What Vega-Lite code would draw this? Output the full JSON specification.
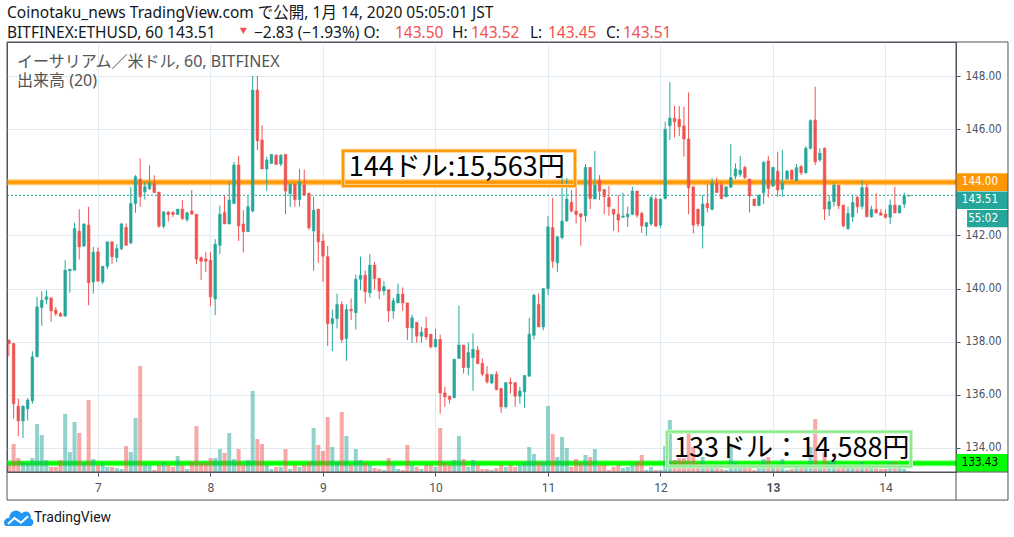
{
"$schema":"https://vega.github.io/schema/vega-lite/v6.json",
"width":949,"height":430,
"autosize":{"type":"none"},
"padding":{"left":7,"top":42,"right":58,"bottom":65},
"background":"white",
"config":{"view":{"stroke":"#50535e","strokeWidth":1},"axis":{"domain":false}},
"datasets":{"k":[
{"t":-19,"o":138.06,"hi":138.08,"lo":137.45,"c":137.93,"v":70},
{"t":-18,"o":137.93,"hi":137.95,"lo":135.1,"c":135.67,"v":280},
{"t":-17,"o":135.57,"hi":135.86,"lo":134.44,"c":135.02,"v":140},
{"t":-16,"o":135.02,"hi":135.6,"lo":134.38,"c":135.57,"v":100},
{"t":-15,"o":135.48,"hi":135.88,"lo":135.04,"c":135.8,"v":90},
{"t":-14,"o":135.78,"hi":137.64,"lo":135.67,"c":137.43,"v":140},
{"t":-13,"o":137.43,"hi":139.69,"lo":137.43,"c":139.31,"v":480},
{"t":-12,"o":139.29,"hi":139.9,"lo":138.6,"c":139.56,"v":370},
{"t":-11,"o":139.59,"hi":139.94,"lo":139.41,"c":139.69,"v":120},
{"t":-10,"o":139.64,"hi":139.69,"lo":138.75,"c":139.16,"v":50},
{"t":-9,"o":139.19,"hi":139.31,"lo":138.96,"c":139.06,"v":50},
{"t":-8,"o":139.06,"hi":139.11,"lo":138.94,"c":138.96,"v":120},
{"t":-7,"o":138.96,"hi":141.07,"lo":138.96,"c":140.69,"v":580},
{"t":-6,"o":140.67,"hi":140.73,"lo":139.84,"c":140.73,"v":200},
{"t":-5,"o":140.69,"hi":142.48,"lo":140.69,"c":142.26,"v":500},
{"t":-4,"o":142.16,"hi":142.99,"lo":141.09,"c":141.57,"v":390},
{"t":-3,"o":141.6,"hi":142.45,"lo":141.57,"c":142.43,"v":90},
{"t":-2,"o":142.39,"hi":143.08,"lo":139.37,"c":140.22,"v":720},
{"t":-1,"o":140.25,"hi":141.57,"lo":139.81,"c":141.37,"v":130},
{"t":0,"o":141.38,"hi":141.55,"lo":140.28,"c":140.28,"v":70},
{"t":1,"o":140.25,"hi":140.84,"lo":140.17,"c":140.84,"v":90},
{"t":2,"o":140.84,"hi":141.76,"lo":140.72,"c":141.76,"v":50},
{"t":3,"o":141.76,"hi":141.76,"lo":140.92,"c":141.2,"v":50},
{"t":4,"o":141.17,"hi":141.67,"lo":141.0,"c":141.5,"v":40},
{"t":5,"o":141.5,"hi":142.48,"lo":141.45,"c":142.43,"v":30},
{"t":6,"o":142.3,"hi":142.45,"lo":141.6,"c":141.63,"v":260},
{"t":7,"o":141.72,"hi":143.83,"lo":141.67,"c":143.2,"v":200},
{"t":8,"o":143.2,"hi":144.27,"lo":142.85,"c":144.21,"v":540},
{"t":9,"o":144.12,"hi":144.9,"lo":143.08,"c":143.46,"v":1060},
{"t":10,"o":143.64,"hi":144.02,"lo":143.35,"c":143.83,"v":70},
{"t":11,"o":143.76,"hi":144.64,"lo":143.71,"c":143.98,"v":70},
{"t":12,"o":143.96,"hi":144.26,"lo":143.61,"c":143.61,"v":20},
{"t":13,"o":143.63,"hi":143.63,"lo":142.29,"c":142.35,"v":70},
{"t":14,"o":142.35,"hi":142.89,"lo":142.26,"c":142.89,"v":100},
{"t":15,"o":142.88,"hi":142.92,"lo":142.53,"c":142.78,"v":70},
{"t":16,"o":142.87,"hi":142.9,"lo":142.7,"c":142.79,"v":50},
{"t":17,"o":142.79,"hi":142.99,"lo":142.79,"c":142.99,"v":160},
{"t":18,"o":142.99,"hi":143.33,"lo":142.58,"c":142.64,"v":70},
{"t":19,"o":142.6,"hi":142.89,"lo":142.51,"c":142.85,"v":30},
{"t":20,"o":142.92,"hi":143.71,"lo":142.8,"c":142.8,"v":100},
{"t":21,"o":142.8,"hi":142.8,"lo":140.92,"c":141.11,"v":460},
{"t":22,"o":141.16,"hi":141.2,"lo":140.32,"c":141.03,"v":90},
{"t":23,"o":141.11,"hi":141.37,"lo":140.62,"c":141.03,"v":90},
{"t":24,"o":141.07,"hi":141.38,"lo":139.34,"c":139.69,"v":140},
{"t":25,"o":139.61,"hi":141.86,"lo":139.0,"c":141.67,"v":140},
{"t":26,"o":141.63,"hi":143.12,"lo":141.3,"c":142.8,"v":230},
{"t":27,"o":142.86,"hi":143.49,"lo":142.43,"c":142.43,"v":190},
{"t":28,"o":142.43,"hi":143.98,"lo":142.43,"c":143.33,"v":390},
{"t":29,"o":143.2,"hi":144.77,"lo":143.18,"c":144.65,"v":130},
{"t":30,"o":144.65,"hi":144.99,"lo":141.79,"c":142.36,"v":230},
{"t":31,"o":142.43,"hi":142.95,"lo":141.36,"c":142.14,"v":70},
{"t":32,"o":142.14,"hi":143.49,"lo":142.14,"c":143.08,"v":120},
{"t":33,"o":142.92,"hi":148.0,"lo":142.87,"c":147.47,"v":810},
{"t":34,"o":147.47,"hi":148.0,"lo":145.21,"c":145.56,"v":330},
{"t":35,"o":145.59,"hi":146.15,"lo":144.5,"c":144.5,"v":280},
{"t":36,"o":144.5,"hi":144.96,"lo":143.67,"c":144.84,"v":70},
{"t":37,"o":144.71,"hi":145.05,"lo":144.71,"c":145.05,"v":30},
{"t":38,"o":145.02,"hi":145.05,"lo":144.67,"c":144.67,"v":50},
{"t":39,"o":144.69,"hi":145.05,"lo":144.61,"c":145.02,"v":50},
{"t":40,"o":145.05,"hi":145.05,"lo":142.8,"c":143.67,"v":230},
{"t":41,"o":143.58,"hi":143.96,"lo":143.08,"c":143.92,"v":30},
{"t":42,"o":143.93,"hi":143.96,"lo":143.08,"c":143.35,"v":70},
{"t":43,"o":143.35,"hi":144.51,"lo":143.08,"c":144.01,"v":50},
{"t":44,"o":143.9,"hi":144.48,"lo":143.52,"c":143.52,"v":70},
{"t":45,"o":143.58,"hi":143.61,"lo":142.2,"c":142.29,"v":100},
{"t":46,"o":142.17,"hi":143.46,"lo":140.67,"c":142.95,"v":440},
{"t":47,"o":142.99,"hi":142.99,"lo":140.97,"c":141.76,"v":270},
{"t":48,"o":141.79,"hi":142.07,"lo":140.25,"c":141.22,"v":210},
{"t":49,"o":141.2,"hi":141.6,"lo":137.84,"c":138.68,"v":550},
{"t":50,"o":138.68,"hi":139.21,"lo":137.65,"c":138.87,"v":250},
{"t":51,"o":138.87,"hi":139.81,"lo":138.5,"c":139.4,"v":100},
{"t":52,"o":139.4,"hi":139.53,"lo":137.96,"c":138.08,"v":600},
{"t":53,"o":138.12,"hi":139.41,"lo":137.28,"c":139.21,"v":360},
{"t":54,"o":139.22,"hi":139.63,"lo":138.81,"c":139.16,"v":70},
{"t":55,"o":139.09,"hi":140.53,"lo":138.46,"c":140.35,"v":230},
{"t":56,"o":140.35,"hi":141.2,"lo":139.94,"c":140.5,"v":120},
{"t":57,"o":140.5,"hi":140.69,"lo":139.44,"c":139.88,"v":90},
{"t":58,"o":139.84,"hi":141.3,"lo":139.66,"c":140.88,"v":70},
{"t":59,"o":140.88,"hi":141.0,"lo":139.96,"c":140.38,"v":40},
{"t":60,"o":140.38,"hi":140.38,"lo":139.6,"c":139.91,"v":30},
{"t":61,"o":139.91,"hi":140.28,"lo":139.75,"c":140.07,"v":20},
{"t":62,"o":139.96,"hi":139.96,"lo":138.75,"c":139.16,"v":140},
{"t":63,"o":139.16,"hi":139.66,"lo":138.87,"c":139.54,"v":70},
{"t":64,"o":139.46,"hi":140.19,"lo":139.46,"c":139.79,"v":30},
{"t":65,"o":139.79,"hi":140.04,"lo":139.16,"c":139.46,"v":20},
{"t":66,"o":139.46,"hi":139.46,"lo":138.06,"c":138.52,"v":270},
{"t":67,"o":138.52,"hi":139.02,"lo":137.96,"c":138.9,"v":70},
{"t":68,"o":138.73,"hi":138.73,"lo":137.96,"c":138.21,"v":50},
{"t":69,"o":138.21,"hi":138.56,"lo":137.96,"c":138.36,"v":30},
{"t":70,"o":138.5,"hi":138.94,"lo":138.06,"c":138.18,"v":70},
{"t":71,"o":138.28,"hi":138.28,"lo":137.74,"c":137.81,"v":70},
{"t":72,"o":137.81,"hi":138.48,"lo":137.78,"c":138.09,"v":50},
{"t":73,"o":138.08,"hi":138.27,"lo":135.29,"c":136.07,"v":440},
{"t":74,"o":136.07,"hi":136.3,"lo":135.55,"c":135.92,"v":90},
{"t":75,"o":135.95,"hi":135.95,"lo":135.67,"c":135.83,"v":70},
{"t":76,"o":135.89,"hi":137.34,"lo":135.89,"c":137.34,"v":120},
{"t":77,"o":137.37,"hi":139.35,"lo":137.37,"c":137.87,"v":360},
{"t":78,"o":137.87,"hi":137.87,"lo":136.8,"c":137.03,"v":130},
{"t":79,"o":137.03,"hi":137.97,"lo":136.74,"c":137.59,"v":50},
{"t":80,"o":137.4,"hi":138.31,"lo":136.15,"c":137.71,"v":120},
{"t":81,"o":137.68,"hi":137.84,"lo":137.15,"c":137.18,"v":70},
{"t":82,"o":137.18,"hi":137.37,"lo":136.7,"c":136.78,"v":30},
{"t":83,"o":136.78,"hi":137.08,"lo":136.42,"c":136.49,"v":30},
{"t":84,"o":136.45,"hi":136.76,"lo":136.4,"c":136.76,"v":20},
{"t":85,"o":136.78,"hi":136.89,"lo":136.17,"c":136.2,"v":40},
{"t":86,"o":136.24,"hi":136.24,"lo":135.32,"c":135.55,"v":70},
{"t":87,"o":135.55,"hi":136.46,"lo":135.48,"c":136.46,"v":50},
{"t":88,"o":136.48,"hi":136.65,"lo":136.05,"c":136.42,"v":70},
{"t":89,"o":136.46,"hi":136.46,"lo":135.55,"c":135.95,"v":50},
{"t":90,"o":135.95,"hi":136.3,"lo":135.67,"c":136.14,"v":70},
{"t":91,"o":136.11,"hi":136.73,"lo":135.51,"c":136.73,"v":100},
{"t":92,"o":136.7,"hi":138.9,"lo":136.7,"c":138.28,"v":250},
{"t":93,"o":138.24,"hi":139.81,"lo":138.08,"c":139.75,"v":180},
{"t":94,"o":139.4,"hi":139.81,"lo":138.56,"c":138.56,"v":100},
{"t":95,"o":138.56,"hi":140.0,"lo":138.43,"c":140.0,"v":100},
{"t":96,"o":140.0,"hi":142.73,"lo":139.75,"c":142.32,"v":660},
{"t":97,"o":142.29,"hi":143.42,"lo":140.78,"c":141.03,"v":380},
{"t":98,"o":140.97,"hi":141.95,"lo":140.62,"c":141.95,"v":150},
{"t":99,"o":141.92,"hi":144.96,"lo":141.85,"c":142.54,"v":350},
{"t":100,"o":142.55,"hi":144.15,"lo":142.51,"c":143.37,"v":240},
{"t":101,"o":143.24,"hi":143.71,"lo":142.87,"c":142.92,"v":50},
{"t":102,"o":142.92,"hi":143.96,"lo":142.45,"c":142.79,"v":130},
{"t":103,"o":142.81,"hi":142.85,"lo":141.61,"c":142.7,"v":90},
{"t":104,"o":142.74,"hi":144.69,"lo":142.51,"c":144.56,"v":170},
{"t":105,"o":144.56,"hi":144.56,"lo":142.99,"c":143.39,"v":150},
{"t":106,"o":143.37,"hi":145.18,"lo":143.37,"c":143.89,"v":230},
{"t":107,"o":144.08,"hi":144.27,"lo":143.33,"c":143.67,"v":70},
{"t":108,"o":143.73,"hi":143.73,"lo":142.8,"c":143.46,"v":70},
{"t":109,"o":143.42,"hi":143.86,"lo":142.74,"c":143.08,"v":20},
{"t":110,"o":142.99,"hi":142.99,"lo":142.17,"c":142.8,"v":50},
{"t":111,"o":142.8,"hi":143.52,"lo":142.11,"c":142.58,"v":70},
{"t":112,"o":142.68,"hi":143.61,"lo":142.68,"c":142.73,"v":40},
{"t":113,"o":142.7,"hi":143.08,"lo":142.32,"c":142.8,"v":50},
{"t":114,"o":142.8,"hi":143.83,"lo":142.76,"c":143.67,"v":70},
{"t":115,"o":143.67,"hi":143.67,"lo":142.66,"c":142.76,"v":100},
{"t":116,"o":142.83,"hi":142.89,"lo":142.1,"c":142.36,"v":170},
{"t":117,"o":142.33,"hi":142.51,"lo":141.99,"c":142.48,"v":20},
{"t":118,"o":142.43,"hi":143.48,"lo":142.36,"c":143.42,"v":50},
{"t":119,"o":143.37,"hi":143.46,"lo":142.33,"c":142.35,"v":20},
{"t":120,"o":142.39,"hi":143.37,"lo":142.29,"c":143.37,"v":20},
{"t":121,"o":143.39,"hi":146.28,"lo":143.35,"c":146.0,"v":260},
{"t":122,"o":146.13,"hi":147.77,"lo":145.59,"c":146.41,"v":520},
{"t":123,"o":146.41,"hi":146.88,"lo":145.69,"c":146.28,"v":120},
{"t":124,"o":146.37,"hi":146.87,"lo":145.74,"c":146.09,"v":140},
{"t":125,"o":146.12,"hi":146.84,"lo":144.96,"c":145.63,"v":140},
{"t":126,"o":145.63,"hi":147.38,"lo":142.8,"c":143.79,"v":400},
{"t":127,"o":143.83,"hi":143.83,"lo":142.07,"c":142.39,"v":250},
{"t":128,"o":142.99,"hi":142.99,"lo":142.33,"c":142.43,"v":90},
{"t":129,"o":142.36,"hi":143.52,"lo":141.51,"c":143.18,"v":150},
{"t":130,"o":143.2,"hi":143.93,"lo":142.86,"c":143.04,"v":70},
{"t":131,"o":142.98,"hi":144.15,"lo":142.95,"c":143.96,"v":40},
{"t":132,"o":143.96,"hi":144.18,"lo":143.61,"c":143.61,"v":40},
{"t":133,"o":143.9,"hi":144.02,"lo":143.35,"c":143.39,"v":30},
{"t":134,"o":143.46,"hi":143.83,"lo":143.43,"c":143.83,"v":20},
{"t":135,"o":143.81,"hi":145.44,"lo":143.81,"c":144.18,"v":270},
{"t":136,"o":144.23,"hi":144.71,"lo":144.12,"c":144.5,"v":100},
{"t":137,"o":144.3,"hi":144.99,"lo":144.21,"c":144.46,"v":50},
{"t":138,"o":144.56,"hi":144.62,"lo":144.12,"c":144.18,"v":50},
{"t":139,"o":144.12,"hi":144.12,"lo":142.86,"c":143.49,"v":50},
{"t":140,"o":143.37,"hi":143.37,"lo":143.12,"c":143.12,"v":20},
{"t":141,"o":143.12,"hi":143.52,"lo":143.12,"c":143.52,"v":70},
{"t":142,"o":143.61,"hi":144.8,"lo":143.18,"c":144.75,"v":130},
{"t":143,"o":144.8,"hi":144.99,"lo":143.43,"c":143.77,"v":150},
{"t":144,"o":143.86,"hi":144.56,"lo":143.83,"c":144.56,"v":70},
{"t":145,"o":144.42,"hi":145.15,"lo":143.46,"c":143.71,"v":70},
{"t":146,"o":143.74,"hi":145.21,"lo":143.46,"c":143.96,"v":130},
{"t":147,"o":144.12,"hi":144.46,"lo":144.12,"c":144.42,"v":20},
{"t":148,"o":144.46,"hi":144.46,"lo":144.11,"c":144.11,"v":30},
{"t":149,"o":144.06,"hi":144.69,"lo":144.06,"c":144.55,"v":50},
{"t":150,"o":144.59,"hi":144.65,"lo":144.27,"c":144.36,"v":50},
{"t":151,"o":144.36,"hi":145.36,"lo":144.33,"c":145.28,"v":70},
{"t":152,"o":145.28,"hi":146.37,"lo":145.24,"c":146.32,"v":250},
{"t":153,"o":146.34,"hi":147.6,"lo":144.65,"c":144.77,"v":530},
{"t":154,"o":144.84,"hi":145.28,"lo":144.77,"c":145.09,"v":70},
{"t":155,"o":145.28,"hi":145.31,"lo":142.58,"c":142.99,"v":190},
{"t":156,"o":142.99,"hi":143.52,"lo":142.73,"c":143.27,"v":100},
{"t":157,"o":143.27,"hi":143.98,"lo":143.08,"c":143.89,"v":120},
{"t":158,"o":143.89,"hi":143.89,"lo":142.99,"c":143.12,"v":70},
{"t":159,"o":143.14,"hi":143.14,"lo":142.3,"c":142.36,"v":70},
{"t":160,"o":142.26,"hi":143.08,"lo":142.2,"c":142.83,"v":60},
{"t":161,"o":142.7,"hi":143.52,"lo":142.51,"c":143.24,"v":40},
{"t":162,"o":143.43,"hi":143.49,"lo":142.83,"c":143.08,"v":70},
{"t":163,"o":143.1,"hi":144.08,"lo":142.98,"c":143.8,"v":100},
{"t":164,"o":143.8,"hi":143.96,"lo":142.7,"c":142.7,"v":70},
{"t":165,"o":142.7,"hi":143.12,"lo":142.67,"c":142.98,"v":60},
{"t":166,"o":142.98,"hi":143.58,"lo":142.83,"c":142.85,"v":50},
{"t":167,"o":142.85,"hi":142.99,"lo":142.76,"c":142.76,"v":30},
{"t":168,"o":142.8,"hi":142.98,"lo":142.64,"c":142.68,"v":30},
{"t":169,"o":142.68,"hi":143.35,"lo":142.43,"c":143.14,"v":100},
{"t":170,"o":143.14,"hi":143.83,"lo":142.83,"c":142.85,"v":100},
{"t":171,"o":142.85,"hi":143.12,"lo":142.83,"c":143.12,"v":50},
{"t":172,"o":143.18,"hi":143.61,"lo":143.04,"c":143.49,"v":30},
{"t":173,"o":143.5,"hi":143.52,"lo":143.45,"c":143.51,"v":10}
]},
"layer":[
 {"data":{"values":[{"p":144,"t1":-19.41,"t2":183.04}]},
  "mark":{"type":"rule","strokeWidth":0,"opacity":0},
  "encoding":{"x":{"field":"t1","type":"quantitative","scale":{"domain":[-19.41,183.04],"nice":false,"zero":false,"padding":0},
    "axis":{"values":[0,24,48,72,96,120,144,168],"labelExpr":"'' + (datum.value/24 + 7)","title":null,"grid":true,"gridColor":"#e1ecf2","tickSize":4,"tickColor":"#50535e","labelPadding":6,"labelFontSize":12,"labelFont":"Roboto","labelColor":"#4c525e","labelFontWeight":{"condition":{"test":"datum.value == 144","value":"bold"},"value":"normal"}}},
   "x2":{"field":"t2"},
   "y":{"field":"p","type":"quantitative","scale":{"domain":[133.096,149.28],"nice":false,"zero":false,"padding":0},
    "axis":{"orient":"right","values":[134,136,138,140,142,146,148],"format":".2f","title":null,"grid":true,"gridColor":"#e1ecf2","tickSize":4,"tickColor":"#50535e","labelPadding":5,"labelFontSize":11.5,"labelFont":"Liberation Sans Narrow, DejaVu Sans Condensed, Roboto, sans-serif","labelColor":"#4c525e"}}}},
 {"data":{"values":[{"p":133.43,"t1":-19.41,"t2":183.04}]},
  "mark":{"type":"rule","strokeWidth":6,"color":"#8cff8c"},
  "encoding":{"x":{"field":"t1","type":"quantitative","axis":null},"x2":{"field":"t2"},
   "y":{"field":"p","type":"quantitative","scale":{"domain":[133.096,149.28],"nice":false,"zero":false,"padding":0},"axis":null}}},
 {"data":{"values":[{"p":133.43,"t1":-19.41,"t2":183.04}]},
  "mark":{"type":"rule","strokeWidth":4,"color":"#00ff00"},
  "encoding":{"x":{"field":"t1","type":"quantitative","axis":null},"x2":{"field":"t2"},
   "y":{"field":"p","type":"quantitative","scale":{"domain":[133.096,149.28],"nice":false,"zero":false,"padding":0},"axis":null}}},
 {"data":{"name":"k"},
  "mark":{"type":"bar","width":4,"opacity":0.5},
  "encoding":{
   "x":{"field":"t","type":"quantitative","axis":null},
   "y":{"field":"v","type":"quantitative","scale":{"domain":[0,4300],"nice":false,"zero":true,"padding":0},"axis":null},
   "y2":{"datum":0},
   "color":{"condition":{"test":"datum.c >= datum.o","value":"#26a69a"},"value":"#ef5350"}}},
 {"data":{"values":[{"p":144,"t1":-19.41,"t2":183.04}]},
  "mark":{"type":"rule","strokeWidth":6,"color":"#ffc46b"},
  "encoding":{"x":{"field":"t1","type":"quantitative","axis":null},"x2":{"field":"t2"},
   "y":{"field":"p","type":"quantitative","scale":{"domain":[133.096,149.28],"nice":false,"zero":false,"padding":0},"axis":null}}},
 {"data":{"values":[{"p":144,"t1":-19.41,"t2":183.04}]},
  "mark":{"type":"rule","strokeWidth":3,"color":"#ff9800"},
  "encoding":{"x":{"field":"t1","type":"quantitative","axis":null},"x2":{"field":"t2"},
   "y":{"field":"p","type":"quantitative","scale":{"domain":[133.096,149.28],"nice":false,"zero":false,"padding":0},"axis":null}}},
 {"data":{"values":[{"p":143.51,"t1":-19.41,"t2":183.04}]},
  "mark":{"type":"rule","strokeWidth":1,"color":"#26a69a","strokeDash":[2,2]},
  "encoding":{"x":{"field":"t1","type":"quantitative","axis":null},"x2":{"field":"t2"},
   "y":{"field":"p","type":"quantitative","scale":{"domain":[133.096,149.28],"nice":false,"zero":false,"padding":0},"axis":null}}},
 {"data":{"name":"k"},
  "mark":{"type":"rule","strokeWidth":1},
  "encoding":{
   "x":{"field":"t","type":"quantitative","axis":null},
   "y":{"field":"lo","type":"quantitative","scale":{"domain":[133.096,149.28],"nice":false,"zero":false,"padding":0},"axis":null},
   "y2":{"field":"hi"},
   "color":{"condition":{"test":"datum.c >= datum.o","value":"#26a69a"},"value":"#ef5350"}}},
 {"data":{"name":"k"},
  "mark":{"type":"bar","width":2.6,"strokeWidth":0.6},
  "encoding":{
   "x":{"field":"t","type":"quantitative","axis":null},
   "y":{"field":"o","type":"quantitative","scale":{"domain":[133.096,149.28],"nice":false,"zero":false,"padding":0},"axis":null},
   "y2":{"field":"c"},
   "color":{"condition":{"test":"datum.c >= datum.o","value":"#26a69a"},"value":"#ef5350"},
   "stroke":{"condition":{"test":"datum.c >= datum.o","value":"#26a69a"},"value":"#ef5350"}}},
 {"data":{"values":[{"t1":52.27,"t2":101.76,"p1":145.19,"p2":143.86}]},
  "mark":{"type":"rect","fillOpacity":0,"stroke":"#ffcc80","strokeWidth":4,"clip":false},
  "encoding":{"x":{"field":"t1","type":"quantitative","axis":null},"x2":{"field":"t2"},"y":{"field":"p1","type":"quantitative","scale":{"domain":[133.096,149.28],"nice":false,"zero":false,"padding":0},"axis":null},"y2":{"field":"p2"}}},
 {"data":{"values":[{"t1":52.27,"t2":101.76,"p1":145.19,"p2":143.86}]},
  "mark":{"type":"rect","fillOpacity":0,"stroke":"#ff9800","strokeWidth":2,"clip":false},
  "encoding":{"x":{"field":"t1","type":"quantitative","axis":null},"x2":{"field":"t2"},"y":{"field":"p1","type":"quantitative","scale":{"domain":[133.096,149.28],"nice":false,"zero":false,"padding":0},"axis":null},"y2":{"field":"p2"}}},
 {"data":{"values":[{"t1":121.39,"t2":173.44,"p1":134.61,"p2":133.3}]},
  "mark":{"type":"rect","fillOpacity":0,"stroke":"#c9f7c9","strokeWidth":4,"clip":false},
  "encoding":{"x":{"field":"t1","type":"quantitative","axis":null},"x2":{"field":"t2"},"y":{"field":"p1","type":"quantitative","scale":{"domain":[133.096,149.28],"nice":false,"zero":false,"padding":0},"axis":null},"y2":{"field":"p2"}}},
 {"data":{"values":[{"t1":121.39,"t2":173.44,"p1":134.61,"p2":133.3}]},
  "mark":{"type":"rect","fillOpacity":0,"stroke":"#8fea8f","strokeWidth":2,"clip":false},
  "encoding":{"x":{"field":"t1","type":"quantitative","axis":null},"x2":{"field":"t2"},"y":{"field":"p1","type":"quantitative","scale":{"domain":[133.096,149.28],"nice":false,"zero":false,"padding":0},"axis":null},"y2":{"field":"p2"}}},
 {"data":{"values":[{"t":53.5,"p":144.54,"txt":"144ドル:15,563円"},{"t":122.9,"p":133.98,"txt":"133ドル：14,588円"}]},
  "mark":{"type":"text","align":"left","baseline":"middle","fontSize":27,"font":"Noto Sans CJK JP","color":"#000000","clip":false},
  "encoding":{"x":{"field":"t","type":"quantitative","axis":null},"y":{"field":"p","type":"quantitative","scale":{"domain":[133.096,149.28],"nice":false,"zero":false,"padding":0},"axis":null},"text":{"field":"txt"}}},
 {"data":{"values":[{"t":-17.28,"p":148.53,"txt":"イーサリアム／米ドル, 60, BITFINEX"},{"t":-17.28,"p":147.81,"txt":"出来高 (20)"}]},
  "mark":{"type":"text","align":"left","baseline":"middle","fontSize":16,"font":"Noto Sans, Noto Sans CJK JP","color":"#555555","clip":false},
  "encoding":{"x":{"field":"t","type":"quantitative","axis":null},"y":{"field":"p","type":"quantitative","scale":{"domain":[133.096,149.28],"nice":false,"zero":false,"padding":0},"axis":null},"text":{"field":"txt"}}},
 {"data":{"values":[
   {"t":-19.41,"p":150.36,"txt":"Coinotaku_news TradingView.com で公開, 1月 14, 2020 05:05:01 JST"},
   {"t":-19.41,"p":149.63,"txt":"BITFINEX:ETHUSD, 60 143.51"},
   {"t":33.28,"p":149.63,"txt":"−2.83 (−1.93%) O:"},
   {"t":75.52,"p":149.63,"txt":"H:"},
   {"t":92.16,"p":149.63,"txt":"L:"},
   {"t":108.37,"p":149.63,"txt":"C:"}]},
  "mark":{"type":"text","align":"left","baseline":"middle","fontSize":15.5,"font":"Noto Sans, Noto Sans CJK JP","color":"#131722","clip":false},
  "encoding":{"x":{"field":"t","type":"quantitative","axis":null},"y":{"field":"p","type":"quantitative","scale":{"domain":[133.096,149.28],"nice":false,"zero":false,"padding":0},"axis":null},"text":{"field":"txt"}}},
 {"data":{"values":[
   {"t":63.36,"p":149.63,"txt":"143.50"},
   {"t":79.57,"p":149.63,"txt":"143.52"},
   {"t":96.0,"p":149.63,"txt":"143.45"},
   {"t":112.0,"p":149.63,"txt":"143.51"}]},
  "mark":{"type":"text","align":"left","baseline":"middle","fontSize":15.5,"font":"Noto Sans, Noto Sans CJK JP","color":"#ef5350","clip":false},
  "encoding":{"x":{"field":"t","type":"quantitative","axis":null},"y":{"field":"p","type":"quantitative","scale":{"domain":[133.096,149.28],"nice":false,"zero":false,"padding":0},"axis":null},"text":{"field":"txt"}}},
 {"data":{"values":[{"t":31.0,"p":149.7}]},
  "mark":{"type":"point","shape":"triangle-down","filled":true,"color":"#ef5350","opacity":1,"size":50,"clip":false},
  "encoding":{"x":{"field":"t","type":"quantitative","axis":null},"y":{"field":"p","type":"quantitative","scale":{"domain":[133.096,149.28],"nice":false,"zero":false,"padding":0},"axis":null}}},
 {"data":{"values":[
   {"name":"a","t1":183.04,"t2":194.13,"p1":144.34,"p2":143.67},
   {"name":"b","t1":183.04,"t2":194.13,"p1":143.65,"p2":142.99},
   {"name":"c","t1":185.4,"t2":194.13,"p1":142.96,"p2":142.31},
   {"name":"d","t1":183.04,"t2":194.13,"p1":133.77,"p2":133.11}]},
  "mark":{"type":"rect","clip":false},
  "encoding":{"x":{"field":"t1","type":"quantitative","axis":null},"x2":{"field":"t2"},"y":{"field":"p1","type":"quantitative","scale":{"domain":[133.096,149.28],"nice":false,"zero":false,"padding":0},"axis":null},"y2":{"field":"p2"},
   "color":{"field":"name","type":"nominal","scale":{"domain":["a","b","c","d"],"range":["#ff9800","#26a69a","#26a69a","#00ff00"]},"legend":null}}},
 {"data":{"values":[{"t":192.0,"p":144.0,"txt":"144.00"},{"t":192.0,"p":143.32,"txt":"143.51"},{"t":192.0,"p":142.63,"txt":"55:02"}]},
  "mark":{"type":"text","align":"right","baseline":"middle","fontSize":11.5,"font":"Liberation Sans Narrow, DejaVu Sans Condensed, Roboto, sans-serif","color":"#ffffff","clip":false},
  "encoding":{"x":{"field":"t","type":"quantitative","axis":null},"y":{"field":"p","type":"quantitative","scale":{"domain":[133.096,149.28],"nice":false,"zero":false,"padding":0},"axis":null},"text":{"field":"txt"}}},
 {"data":{"values":[{"t":192.0,"p":133.43,"txt":"133.43"}]},
  "mark":{"type":"text","align":"right","baseline":"middle","fontSize":11.5,"font":"Liberation Sans Narrow, DejaVu Sans Condensed, Roboto, sans-serif","color":"#000000","clip":false},
  "encoding":{"x":{"field":"t","type":"quantitative","axis":null},"y":{"field":"p","type":"quantitative","scale":{"domain":[133.096,149.28],"nice":false,"zero":false,"padding":0},"axis":null},"text":{"field":"txt"}}},
 {"data":{"values":[{"t1":-19.41,"t2":194.13,"p1":132.04,"p2":149.28}]},
  "mark":{"type":"rect","fillOpacity":0,"stroke":"#50535e","strokeWidth":1,"clip":false},
  "encoding":{"x":{"field":"t1","type":"quantitative","axis":null},"x2":{"field":"t2"},"y":{"field":"p1","type":"quantitative","scale":{"domain":[133.096,149.28],"nice":false,"zero":false,"padding":0},"axis":null},"y2":{"field":"p2"}}},
 {"data":{"values":[{"t":183.04,"p1":132.04,"p2":149.28}]},
  "mark":{"type":"rule","color":"#50535e","strokeWidth":1,"clip":false},
  "encoding":{"x":{"field":"t","type":"quantitative","axis":null},"y":{"field":"p1","type":"quantitative","scale":{"domain":[133.096,149.28],"nice":false,"zero":false,"padding":0},"axis":null},"y2":{"field":"p2"}}},
 {"data":{"values":[{"t1":-19.41,"t2":194.13,"p":133.096}]},
  "mark":{"type":"rule","color":"#50535e","strokeWidth":1,"clip":false},
  "encoding":{"x":{"field":"t1","type":"quantitative","axis":null},"x2":{"field":"t2"},"y":{"field":"p","type":"quantitative","scale":{"domain":[133.096,149.28],"nice":false,"zero":false,"padding":0},"axis":null}}},
 {"data":{"values":[{"t":-16.85,"p":131.36}]},
  "mark":{"type":"point","filled":true,"color":"#2196f3","opacity":1,"size":676,"clip":false,
   "shape":"M -1 0.6 C -1.25 0.55 -1.2 -0.05 -0.75 0 C -0.75 -0.55 -0.15 -0.8 0.2 -0.35 C 0.5 -0.7 1 -0.45 0.9 0.05 C 1.2 0.1 1.15 0.6 0.9 0.6 Z"},
  "encoding":{"x":{"field":"t","type":"quantitative","axis":null},"y":{"field":"p","type":"quantitative","scale":{"domain":[133.096,149.28],"nice":false,"zero":false,"padding":0},"axis":null}}},
 {"data":{"values":[{"t":-16.85,"p":131.36}]},
  "mark":{"type":"point","filled":false,"color":"#ffffff","strokeWidth":2,"opacity":1,"size":676,"clip":false,
   "shape":"M -0.85 0.45 L -0.35 0 L 0.15 0.35 L 0.7 -0.15"},
  "encoding":{"x":{"field":"t","type":"quantitative","axis":null},"y":{"field":"p","type":"quantitative","scale":{"domain":[133.096,149.28],"nice":false,"zero":false,"padding":0},"axis":null}}},
 {"data":{"values":[{"t":-13.65,"p":131.36,"txt":"TradingView"}]},
  "mark":{"type":"text","align":"left","baseline":"middle","fontSize":14,"font":"Roboto","color":"#131722","clip":false},
  "encoding":{"x":{"field":"t","type":"quantitative","axis":null},"y":{"field":"p","type":"quantitative","scale":{"domain":[133.096,149.28],"nice":false,"zero":false,"padding":0},"axis":null},"text":{"field":"txt"}}}
],
"resolve":{"scale":{"y":"independent"},"axis":{"x":"independent"}}
}
